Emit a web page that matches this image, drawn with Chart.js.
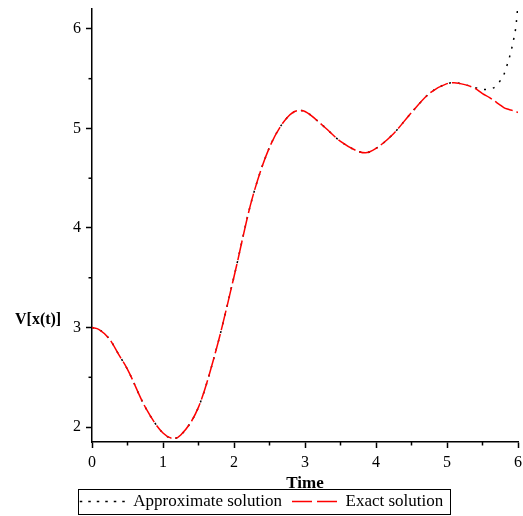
<!DOCTYPE html>
<html>
<head>
<meta charset="utf-8">
<script src="https://cdn.jsdelivr.net/npm/chart.js@4/dist/chart.umd.min.js"></script>
<style>
  html, body { margin: 0; padding: 0; background: #ffffff; }
  #wrap { width: 523px; height: 516px; }
</style>
</head>
<body>
<div id="wrap"><canvas id="c" width="523" height="516"></canvas></div>
<script>
// ---- Data ----
const time = [0, 0.1, 0.25, 0.375, 0.5, 0.75, 1.0, 1.15, 1.25, 1.5, 1.75, 2.0, 2.25, 2.5, 2.75, 2.92, 3.0, 3.25, 3.5, 3.75, 3.85, 4.0, 4.25, 4.5, 4.75, 5.0, 5.1, 5.25, 5.4, 5.5, 5.6, 5.7, 5.75, 5.8, 5.85, 5.9, 5.95, 5.97, 6.0];
const exactSolution = [3.00, 2.98, 2.88, 2.73, 2.58, 2.20, 1.94, 1.885, 1.92, 2.20, 2.78, 3.51, 4.28, 4.81, 5.11, 5.18, 5.17, 5.03, 4.87, 4.77, 4.755, 4.80, 4.95, 5.16, 5.35, 5.45, 5.46, 5.44, 5.40, 5.35, 5.31, 5.26, 5.235, 5.21, 5.195, 5.185, 5.175, 5.17, 5.16];
const approxSolution = [3.00, 2.98, 2.88, 2.73, 2.58, 2.20, 1.94, 1.885, 1.92, 2.20, 2.78, 3.51, 4.28, 4.81, 5.11, 5.18, 5.17, 5.03, 4.87, 4.77, 4.755, 4.80, 4.95, 5.16, 5.35, 5.45, 5.46, 5.44, 5.41, 5.39, 5.395, 5.43, 5.48, 5.54, 5.645, 5.77, 5.935, 6.02, 6.25];
const seriesLabels = ["Approximate solution", "Exact solution"];
const xTickValues = [0, 0.5, 1, 1.5, 2, 2.5, 3, 3.5, 4, 4.5, 5, 5.5, 6];
const yTickValues = [2, 2.5, 3, 3.5, 4, 4.5, 5, 5.5, 6];
const xTitle = "Time";
const yTitle = "V[x(t)]";

const SERIF = "'Liberation Serif', 'Times New Roman', 'DejaVu Serif', serif";
const legendDash = [[2.5, 6], [20, 5]];

const toPoints = (xs, ys) => xs.map((x, i) => ({ x: x, y: ys[i] }));
const isMajor = v => Math.abs(v - Math.round(v)) < 1e-9;

const decorPlugin = {
  id: 'decor',
  afterDraw(chart) {
    const ctx = chart.ctx;
    const area = chart.chartArea;
    const xs = chart.scales.x, ys = chart.scales.y;
    ctx.save();
    ctx.strokeStyle = '#000';
    ctx.lineWidth = 1.5;
    // minor ticks (shorter)
    xTickValues.filter(v => !isMajor(v)).forEach(v => {
      const px = xs.getPixelForValue(v);
      ctx.beginPath(); ctx.moveTo(px, area.bottom); ctx.lineTo(px, area.bottom + 3.5); ctx.stroke();
    });
    yTickValues.filter(v => !isMajor(v)).forEach(v => {
      const py = ys.getPixelForValue(v);
      ctx.beginPath(); ctx.moveTo(area.left - 3.5, py); ctx.lineTo(area.left, py); ctx.stroke();
    });
    // horizontal y-axis title
    ctx.fillStyle = '#000';
    ctx.font = 'bold 16px ' + SERIF;
    ctx.textAlign = 'left';
    ctx.textBaseline = 'middle';
    ctx.fillText(yTitle, 15, ys.getPixelForValue(3) - 8);
    // legend border
    const hb = chart.legend.legendHitBoxes;
    if (hb && hb.length) {
      const l = Math.min(...hb.map(h => h.left)) - 2;
      const r = Math.max(...hb.map(h => h.left + h.width)) + 7;
      const t = Math.min(...hb.map(h => h.top)) - 4;
      const b = Math.max(...hb.map(h => h.top + h.height)) + 4;
      ctx.lineWidth = 1;
      ctx.strokeRect(Math.round(l) + 0.5, Math.round(t) + 0.5, Math.round(r - l), Math.round(b - t));
    }
    ctx.restore();
  }
};

new Chart(document.getElementById('c'), {
  type: 'line',
  data: {
    datasets: [
      {
        label: seriesLabels[0],
        data: toPoints(time, approxSolution),
        borderColor: '#000000',
        backgroundColor: 'rgba(0,0,0,0)',
        borderWidth: 1.5,
        borderDash: [2, 7],
        pointRadius: 0,
        cubicInterpolationMode: 'monotone',
        order: 2
      },
      {
        label: seriesLabels[1],
        data: toPoints(time, exactSolution),
        borderColor: '#ff0000',
        backgroundColor: 'rgba(0,0,0,0)',
        borderWidth: 1.5,
        borderDash: [20, 4],
        pointRadius: 0,
        cubicInterpolationMode: 'monotone',
        order: 1
      }
    ]
  },
  options: {
    responsive: false,
    animation: false,
    layout: { padding: { left: 5, right: 5, top: 9, bottom: -4 } },
    plugins: {
      tooltip: { enabled: false },
      legend: {
        position: 'bottom',
        align: 'center',
        labels: {
          usePointStyle: true,
          pointStyle: 'line',
          pointStyleWidth: 45,
          boxHeight: 17,
          padding: 10,
          color: '#000',
          font: { family: SERIF, size: 17 },
          generateLabels: chart => {
            const items = Chart.defaults.plugins.legend.labels.generateLabels(chart);
            items.forEach(it => { it.lineDash = legendDash[it.datasetIndex]; it.pointStyle = 'line'; });
            return items;
          },
          sort: (a, b) => a.datasetIndex - b.datasetIndex
        }
      }
    },
    scales: {
      x: {
        type: 'linear',
        min: 0,
        max: 6,
        afterBuildTicks: s => { s.ticks = xTickValues.map(v => ({ value: v })); },
        afterFit: s => { s.height = 41; },
        border: { display: true, color: '#000', width: 1.5 },
        grid: {
          drawOnChartArea: false,
          drawTicks: true,
          tickLength: 6,
          tickWidth: 1.5,
          tickColor: c => (c.tick && isMajor(c.tick.value)) ? '#000' : 'rgba(0,0,0,0)'
        },
        ticks: {
          color: '#000',
          padding: 0,
          maxRotation: 0,
          autoSkip: false,
          font: { family: SERIF, size: 16, lineHeight: 1.875 },
          callback: v => isMajor(v) ? String(Math.round(v)) : ''
        },
        title: {
          display: true,
          text: xTitle,
          color: '#000',
          font: { family: SERIF, size: 17, weight: 'bold', lineHeight: 1 },
          padding: { top: 0, bottom: -9 }
        }
      },
      y: {
        type: 'linear',
        min: 1.85,
        max: 6.2,
        afterBuildTicks: s => { s.ticks = yTickValues.map(v => ({ value: v })); },
        afterFit: s => { s.width = 87; },
        border: { display: true, color: '#000', width: 1.5 },
        grid: {
          drawOnChartArea: false,
          drawTicks: true,
          tickLength: 6,
          tickWidth: 1.5,
          tickColor: c => (c.tick && isMajor(c.tick.value)) ? '#000' : 'rgba(0,0,0,0)'
        },
        ticks: {
          color: '#000',
          padding: 5,
          autoSkip: false,
          font: { family: SERIF, size: 16, lineHeight: 0.5 },
          callback: v => isMajor(v) ? String(Math.round(v)) : ''
        },
        title: { display: false, text: yTitle }
      }
    }
  },
  plugins: [decorPlugin]
});
</script>
</body>
</html>
